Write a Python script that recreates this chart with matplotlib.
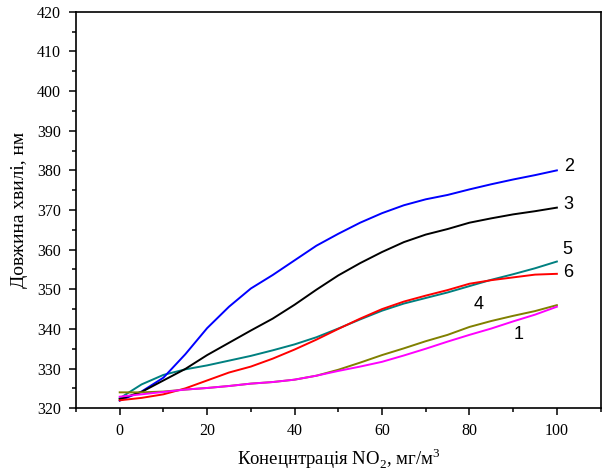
import matplotlib
matplotlib.use("Agg")
import matplotlib.pyplot as plt
from matplotlib.ticker import MultipleLocator

x = [0, 5, 10, 15, 20, 25, 30, 35, 40, 45, 50, 55, 60, 65, 70, 75, 80, 85, 90, 95, 100]

s1 = [322.9, 323.5, 324.1, 324.7, 325.1, 325.6, 326.2, 326.6, 327.2, 328.2, 329.4,
      330.5, 331.7, 333.3, 335.0, 336.8, 338.5, 340.1, 341.9, 343.6, 345.6]
s2 = [321.9, 324.2, 327.7, 333.6, 340.2, 345.6, 350.2, 353.6, 357.3, 361.0, 364.0,
      366.8, 369.2, 371.2, 372.7, 373.8, 375.2, 376.5, 377.7, 378.8, 380.0]
s3 = [322.3, 324.1, 327.0, 329.9, 333.4, 336.5, 339.6, 342.6, 346.1, 349.9, 353.5,
      356.6, 359.4, 361.9, 363.8, 365.2, 366.8, 367.9, 368.9, 369.7, 370.6]
s4 = [324.0, 324.0, 324.2, 324.7, 325.1, 325.6, 326.2, 326.6, 327.2, 328.2, 329.7,
      331.5, 333.4, 335.1, 336.9, 338.5, 340.5, 342.0, 343.3, 344.5, 346.0]
s5 = [322.5, 326.0, 328.4, 329.8, 330.8, 332.0, 333.2, 334.6, 336.1, 337.9, 340.1,
      342.4, 344.6, 346.4, 347.8, 349.2, 350.8, 352.4, 353.8, 355.3, 357.0]
s6 = [322.0, 322.6, 323.5, 325.0, 327.0, 329.0, 330.5, 332.5, 334.8, 337.3, 340.0,
      342.6, 345.0, 346.9, 348.4, 349.8, 351.4, 352.3, 353.0, 353.7, 353.9]

series = [s1, s2, s3, s4, s5, s6]
colors = ["#FF00FF", "#0000FF", "#000000", "#808000", "#008080", "#FF0000"]
labels = ["1", "2", "3", "4", "5", "6"]
label_pos = [(91.3, 338.6), (102.7, 381.0), (102.6, 371.4), (82.0, 346.1), (102.4, 360.0), (102.7, 354.3)]

plt.rcParams["mathtext.fontset"] = "custom"
plt.rcParams["mathtext.rm"] = "Liberation Serif"

fig = plt.figure(figsize=(6.03, 4.73), dpi=100)
ax = fig.add_axes([0.126, 0.137, 0.870, 0.838])

order = [4, 1, 2, 5, 3, 0]
for i in order:
    ax.plot(x, series[i], color=colors[i], lw=1.4)

for lab, (lx, ly) in zip(labels, label_pos):
    ax.text(lx, ly, lab, fontsize=13, family="Liberation Sans", ha="center", va="center")

ax.set_xlim(-10, 110)
ax.set_ylim(320, 420)
ax.xaxis.set_major_locator(MultipleLocator(20))
ax.xaxis.set_minor_locator(MultipleLocator(10))
ax.yaxis.set_major_locator(MultipleLocator(10))
ax.yaxis.set_minor_locator(MultipleLocator(5))
ax.tick_params(which="both", direction="out", width=1.1, top=False, right=False)
ax.tick_params(which="major", length=5, labelsize=11.5, pad=6)
ax.tick_params(which="minor", length=3)
for lab in ax.get_xticklabels() + ax.get_yticklabels():
    lab.set_family("Liberation Serif")
for sp in ax.spines.values():
    sp.set_linewidth(1.2)

ax.set_xlabel(r"Конецнтрація NO$_\mathregular{2}$, мг/м$^\mathregular{3}$",
              family="Liberation Serif", fontsize=13.5, labelpad=5)
ax.set_ylabel("Довжина хвилі, нм", family="Liberation Serif", fontsize=14, labelpad=6)

fig.savefig("out.png", dpi=100)
